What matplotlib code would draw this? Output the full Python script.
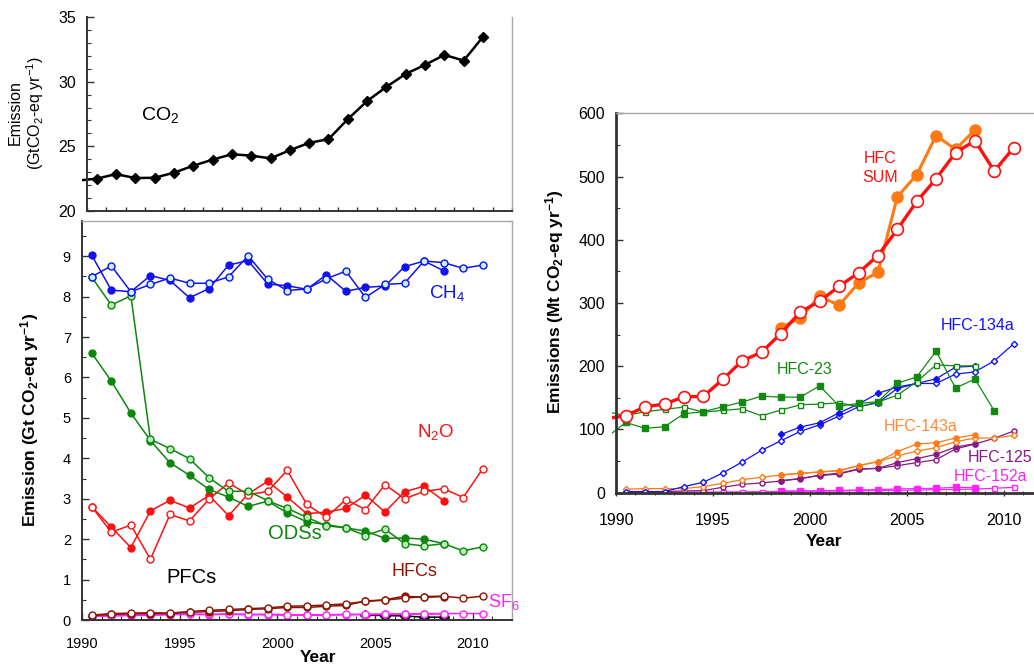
import numpy as np
import matplotlib
matplotlib.use('Agg')
import matplotlib.pyplot as plt
from matplotlib.ticker import MultipleLocator
from matplotlib.transforms import Bbox, TransformedBbox

plt.rcParams['font.family'] = ['Liberation Sans', 'DejaVu Sans']
plt.rcParams['mathtext.fontset'] = 'custom'
plt.rcParams['mathtext.rm'] = 'Liberation Sans'
plt.rcParams['mathtext.it'] = 'Liberation Sans:italic'
plt.rcParams['mathtext.bf'] = 'Liberation Sans:bold'

# ---- data (years are mid-year, 1990.5 ... 2010.5) ----
years = [1990.5 + i for i in range(21)]
years_to2008 = years[:19]
years_to2009 = years[:20]
years_late = years[8:19]          # 1998.5 - 2008.5
years_pfc = years[14:19]          # 2004.5 - 2008.5

# top panel, CO2 (first value is 1989.5, mostly off the axis)
co2 = [22.35, 22.5, 22.85, 22.55, 22.57, 22.96, 23.5, 23.97, 24.39, 24.28, 24.07,
       24.7, 25.27, 25.55, 27.1, 28.5, 29.6, 30.6, 31.3, 32.07, 31.63, 33.47]

# bottom-left panel, Gt CO2-eq / yr
ch4_a = [9.02, 8.16, 8.12, 8.52, 8.40, 7.97, 8.20, 8.78, 8.89, 8.31, 8.27, 8.18,
         8.54, 8.13, 8.23, 8.26, 8.74, 8.88, 8.64]
ch4_b = [8.49, 8.76, 8.12, 8.30, 8.46, 8.33, 8.33, 8.49, 9.01, 8.43, 8.15, 8.19,
         8.44, 8.63, 7.98, 8.30, 8.33, 8.88, 8.84, 8.70, 8.78]
ods_a = [6.60, 5.91, 5.12, 4.44, 3.89, 3.58, 3.23, 3.04, 2.81, 2.94, 2.65, 2.43,
         2.36, 2.28, 2.20, 2.02, 2.03, 2.00, 1.89]
ods_b = [8.48, 7.79, 8.02, 4.47, 4.24, 3.99, 3.52, 3.18, 3.19, 2.95, 2.76, 2.54,
         2.33, 2.28, 2.09, 2.25, 1.89, 1.83, 1.89, 1.71, 1.81]
n2o_a = [2.80, 2.30, 1.79, 2.70, 2.96, 2.77, 3.08, 2.58, 3.12, 3.43, 3.04, 2.63,
         2.67, 2.76, 3.09, 2.67, 3.17, 3.31, 2.95]
n2o_b = [2.80, 2.17, 2.35, 1.50, 2.61, 2.45, 2.99, 3.39, 3.10, 3.18, 3.70, 2.86,
         2.54, 2.98, 2.73, 3.35, 3.00, 3.18, 3.25, 3.03, 3.74]
hfc_a = [0.11, 0.14, 0.15, 0.16, 0.16, 0.19, 0.21, 0.23, 0.26, 0.28, 0.31, 0.31,
         0.34, 0.36, 0.47, 0.50, 0.59, 0.56, 0.58]
hfc_b = [0.12, 0.16, 0.17, 0.18, 0.17, 0.21, 0.24, 0.26, 0.28, 0.30, 0.34, 0.35,
         0.37, 0.40, 0.46, 0.49, 0.54, 0.58, 0.59, 0.54, 0.59]
sf6_a = [0.09, 0.10, 0.11, 0.12, 0.13, 0.14, 0.13, 0.14, 0.13, 0.13, 0.12, 0.12,
         0.12, 0.13, 0.13, 0.14, 0.14, 0.15, 0.15]
sf6_b = [0.10, 0.11, 0.12, 0.13, 0.14, 0.15, 0.14, 0.15, 0.14, 0.14, 0.13, 0.13,
         0.13, 0.14, 0.14, 0.15, 0.15, 0.16, 0.16, 0.16, 0.16]
pfc = [0.12, 0.11, 0.10, 0.07, 0.07]

# right panel, Mt CO2-eq / yr (leading value of sum_b / h23 is 1989.5)
sum_b = [117, 121.6, 135.8, 140, 151.6, 152.1, 179, 208.4, 222, 251.6, 285.8, 302.6,
         326.4, 347.5, 375, 416.2, 460.5, 496.5, 537.7, 556.7, 508.6, 545.6]
sum_a = [260.5, 276.8, 310.5, 296.2, 331.6, 348.5, 467.9, 502.8, 564.6, 543, 573.6]
h134_b = [1.6, 1.6, 1.6, 9.5, 16.3, 31, 48.4, 66.8, 82, 96.8, 107.4, 121, 135.8,
          142, 164.7, 172.6, 172.6, 187.4, 191, 208.4, 235.3]
h134_a = [92, 103.7, 110.5, 126.3, 140, 157, 167, 172.6, 180, 198.4, 200]
h23_a = [87, 111, 101.6, 104.2, 124.7, 127.9, 135.8, 143.2, 152.6, 151, 151, 169,
         136.8, 141, 143.8, 173, 183, 223.7, 165.5, 179.6, 129.3]
h23_b = [128, 122, 127.9, 131.6, 135.3, 127.4, 130, 132.6, 121.6, 130.5, 139, 140,
         142, 135.8, 143.2, 154, 175.5, 202, 200.5, 200.5]
h143_b = [5.3, 6.3, 6.3, 6.3, 9.5, 14.7, 20.5, 24.2, 27.9, 30.5, 32.6, 34.7, 42.6,
          49, 57.9, 65.8, 71, 80.5, 86.3, 86.3, 90.5]
h143_a = [28, 30.5, 32.6, 34.7, 42.6, 49, 64.7, 76.8, 79, 86.3, 91.6]
h125_b = [1.6, 1.6, 1.6, 2.6, 3.2, 8.4, 13, 15.3, 18.4, 22.6, 26.8, 29.5, 36.8,
          38.4, 42.6, 47.4, 52, 69, 76.8, 85.8, 97.4]
h125_a = [19, 21.6, 27.9, 30.5, 37.4, 38.4, 47.4, 53.7, 60.5, 72, 77.4]
h152_b = [0.5, 0.5, 0.5, 0.5, 0.8, 1, 1.2, 1.5, 1.8, 2, 2.3, 2.6, 3, 3.2, 3.5, 4,
          4.5, 5, 5.5, 6.8, 8.4]
h152_a = [2.6, 2.6, 3, 3.5, 4.2, 4.7, 5.8, 6.3, 6.8, 8.4, 7.9]

W, H = 1034, 664
fig = plt.figure(figsize=(W / 100, H / 100), dpi=100)


def box(left, top, right, bottom):
    return [left / W, 1 - bottom / H, (right - left) / W, (bottom - top) / H]


def clip_from(line, px, ax):
    # let a line start a little left of the axes, like in the source figure
    right = ax.get_position().x1 * W
    line.set_clip_box(TransformedBbox(Bbox.from_extents(px / 100, 0, right / 100, H / 100),
                                      fig.dpi_scale_trans))


def style_axes(ax, frame_top=True):
    for s in ['left', 'bottom']:
        ax.spines[s].set_color('#333333')
        ax.spines[s].set_linewidth(1.4)
    for s in ['right', 'top']:
        ax.spines[s].set_color('#a8a8a8')
        ax.spines[s].set_linewidth(1.0)
    ax.spines['top'].set_visible(frame_top)
    ax.tick_params(which='both', direction='in', colors='#333333', labelcolor='black',
                   top=False, right=False)
    ax.tick_params(which='major', length=5, width=1)
    ax.tick_params(which='minor', length=3, width=0.8)


# ---------------- top-left : CO2 ----------------
ax1 = fig.add_axes(box(87, 17, 512, 211))
ln, = ax1.plot([1989.5] + years, co2, color='black', lw=1.8, marker='D', ms=4.8,
               markevery=slice(1, None))
clip_from(ln, 82, ax1)
ax1.set_xlim(1990, 2012)
ax1.set_ylim(20, 35)
ax1.set_xticks(range(1990, 2013))
ax1.set_xticklabels([])
ax1.yaxis.set_major_locator(MultipleLocator(5))
ax1.yaxis.set_minor_locator(MultipleLocator(1))
style_axes(ax1, frame_top=False)
ax1.tick_params(axis='x', which='major', length=3)
ax1.tick_params(axis='y', labelsize=11.5, pad=8)
ax1.text(1993.8, 27.4, 'CO$_2$', fontsize=14, ha='center', va='center')
fig.text(27 / W, 1 - 113 / H, 'Emission\n(GtCO$_2$-eq yr$^{-1}$)', rotation=90,
         ha='center', va='center', multialignment='center', fontsize=11.5,
         linespacing=1.1)

# ---------------- bottom-left : other gases ----------------
ax2 = fig.add_axes(box(82, 221, 512, 620))
lw, ms = 1.1, 5
blue, green, red, brown, mag = '#1212ee', '#0c870c', '#ff1010', '#8a1505', '#ff22ff'

ax2.plot(years_pfc, pfc, color='black', lw=lw, marker='D', ms=5)
ax2.plot(years_to2008, sf6_a, color=mag, lw=lw, marker='o', ms=ms)
ax2.plot(years, sf6_b, color=mag, lw=lw, marker='o', ms=ms, mfc='white', mec=mag)
ax2.plot(years_to2008, hfc_a, color=brown, lw=lw, marker='o', ms=ms)
ax2.plot(years, hfc_b, color=brown, lw=lw, marker='o', ms=ms, mfc='white', mec=brown)
ax2.plot(years_to2008, n2o_a, color=red, lw=lw, marker='o', ms=ms)
ax2.plot(years, n2o_b, color=red, lw=lw, marker='o', ms=ms, mfc='white', mec=red)
ax2.plot(years_to2008, ods_a, color=green, lw=lw, marker='o', ms=ms)
ax2.plot(years, ods_b, color=green, lw=lw, marker='o', ms=ms, mfc='#b9efb9', mec=green)
ax2.plot(years_to2008, ch4_a, color=blue, lw=lw, marker='o', ms=ms)
ax2.plot(years, ch4_b, color=blue, lw=lw, marker='o', ms=ms, mfc='#c6f3ff', mec=blue)

ax2.set_xlim(1990, 2012)
ax2.set_ylim(0, 9.87)
ax2.xaxis.set_major_locator(MultipleLocator(5))
ax2.xaxis.set_minor_locator(MultipleLocator(1))
ax2.yaxis.set_major_locator(MultipleLocator(1))
ax2.yaxis.set_minor_locator(MultipleLocator(0.5))
style_axes(ax2)
ax2.tick_params(labelsize=10.5)
ax2.tick_params(axis='x', pad=12)
ax2.tick_params(axis='y', pad=8)

ax2.text(2008.7, 8.1, 'CH$_4$', color=blue, fontsize=13.5, ha='center', va='center')
ax2.text(2008.1, 4.65, 'N$_2$O', color=red, fontsize=13.5, ha='center', va='center')
ax2.text(2000.9, 2.13, 'ODSs', color=green, fontsize=14.5, ha='center', va='center')
ax2.text(1995.6, 1.04, 'PFCs', color='black', fontsize=14.5, ha='center', va='center')
ax2.text(2007.0, 1.19, 'HFCs', color=brown, fontsize=13, ha='center', va='center')
ax2.text(2010.75, 0.45, 'SF$_6$', color=mag, fontsize=13, ha='left', va='center',
         clip_on=False)

fig.text(30 / W, 1 - 420 / H, r'Emission (Gt CO$_\mathbf{2}$-eq yr$^\mathbf{-1}$)',
         rotation=90, ha='center', va='center', fontsize=12.5, fontweight='bold')
fig.text(318 / W, 1 - 657 / H, 'Year', ha='center', va='center', fontsize=12.5,
         fontweight='bold')

# ---------------- right : HFC species ----------------
ax3 = fig.add_axes(box(616, 113.3, 1042.8, 492.6))
thin, small = 0.9, 3.6
orange, rblue, rgreen, purple = '#ff7a14', '#1010ff', '#128a12', '#861a86'

ax3.plot(years, h152_b, color=mag, lw=thin, marker='s', ms=small, mfc='white', mec=mag)
ax3.plot(years_late, h152_a, color=mag, lw=thin, marker='s', ms=small + 0.6)
ax3.plot(years, h125_b, color=purple, lw=thin, marker='o', ms=small, mfc='white', mec=purple)
ax3.plot(years_late, h125_a, color=purple, lw=thin, marker='o', ms=small)
ax3.plot(years, h143_b, color=orange, lw=thin, marker='D', ms=small - 0.4, mfc='white', mec=orange)
ax3.plot(years_late, h143_a, color=orange, lw=thin, marker='o', ms=small)
ax3.plot(years, h134_b, color=rblue, lw=thin, marker='D', ms=small - 0.4, mfc='white', mec=rblue)
ax3.plot(years_late, h134_a, color=rblue, lw=thin, marker='D', ms=small - 0.4)
ln, = ax3.plot([1989.5] + years_to2008, h23_b, color=rgreen, lw=thin, marker='s', ms=small,
               mfc='white', mec=rgreen, markevery=slice(1, None))
clip_from(ln, 611.7, ax3)
ln, = ax3.plot([1989.5] + years_to2009, h23_a, color=rgreen, lw=thin, marker='s', ms=small + 0.6,
               markevery=slice(1, None))
clip_from(ln, 611.7, ax3)
ax3.plot(years_late, sum_a, color=orange, lw=2.2, marker='o', ms=8)
ln, = ax3.plot([1989.5] + years, sum_b, color='#ff1010', lw=2.4, marker='o', ms=8.5,
               mfc='white', mec='#ff1010', mew=1.2, markevery=slice(1, None))
clip_from(ln, 611.7, ax3)

ax3.set_xlim(1990, 2012)
ax3.set_ylim(0, 600)
ax3.xaxis.set_major_locator(MultipleLocator(5))
ax3.xaxis.set_minor_locator(MultipleLocator(1))
ax3.yaxis.set_major_locator(MultipleLocator(100))
ax3.yaxis.set_minor_locator(MultipleLocator(50))
style_axes(ax3)
ax3.spines['left'].set_linewidth(2)
ax3.spines['bottom'].set_linewidth(2)
ax3.spines['right'].set_visible(False)
ax3.tick_params(labelsize=11.5)
ax3.tick_params(axis='x', which='both', direction='inout', pad=12)
ax3.tick_params(axis='y', pad=8)

ax3.text(2003.6, 513, 'HFC\nSUM', color='#ff1010', fontsize=11.5, ha='center',
         va='center', linespacing=1.35)
ax3.text(2008.66, 265, 'HFC-134a', color=rblue, fontsize=11.5, ha='center', va='center')
ax3.text(1999.7, 194, 'HFC-23', color=rgreen, fontsize=11.5, ha='center', va='center')
ax3.text(2005.72, 105, 'HFC-143a', color='#ff8a3a', fontsize=11.5, ha='center', va='center')
ax3.text(2009.8, 56, 'HFC-125', color=purple, fontsize=11.5, ha='center', va='center')
ax3.text(2009.28, 26, 'HFC-152a', color=mag, fontsize=11.5, ha='center', va='center')

fig.text(555 / W, 1 - 302 / H, r'Emissions (Mt CO$_\mathbf{2}$-eq yr$^\mathbf{-1}$)',
         rotation=90, ha='center', va='center', fontsize=12.5, fontweight='bold')
fig.text(824 / W, 1 - 542 / H, 'Year', ha='center', va='center', fontsize=12.5,
         fontweight='bold')

fig.savefig('out.png', dpi=100)
